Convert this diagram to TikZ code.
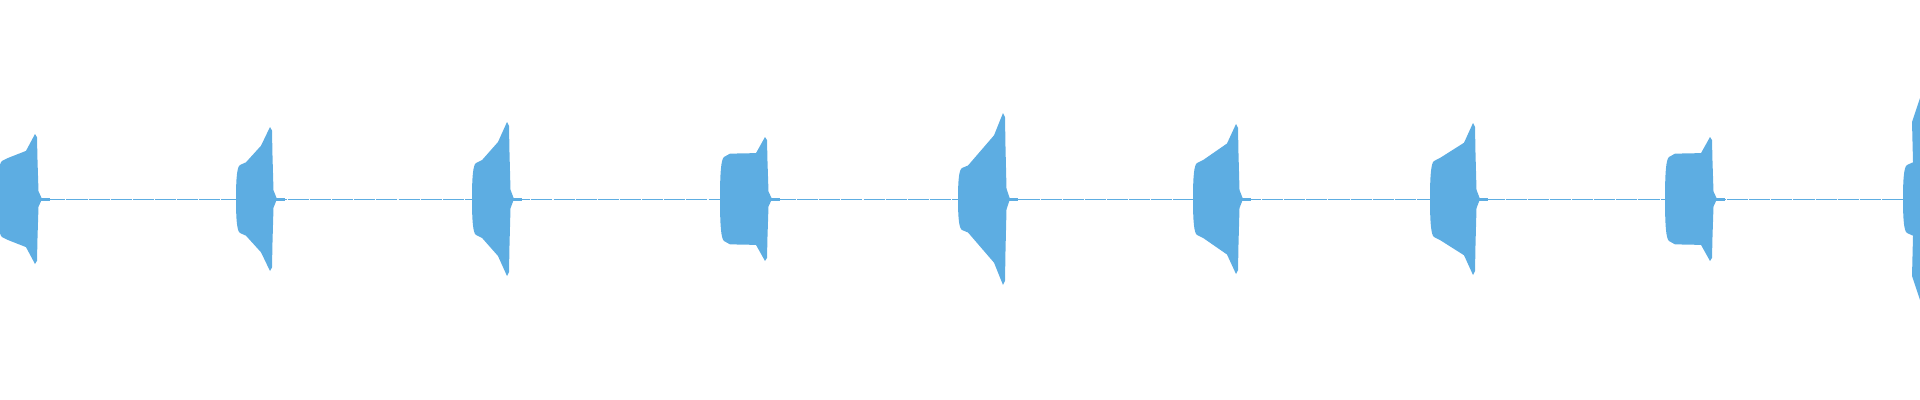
\documentclass[tikz,border=0pt]{standalone}
\definecolor{wave}{RGB}{93,173,226}
\begin{document}
\begin{tikzpicture}[x=0.05cm,y=-0.05cm]
\useasboundingbox (0,0) rectangle (1920,400);
\draw[wave,line width=0.8pt,dash pattern=on 30pt off 1.5pt] (0,199) -- (1920,199);
\foreach \s/\e/\a/\p in {-2/40/38/65, 236/275/34/72, 472/512/36/77, 720/770/42/62, 958/1008/31/86, 1193/1241/36/75, 1430/1478/38/76, 1665/1715/42/62, 1903/1926/34/104}{
  \fill[wave] (\s,199) .. controls (\s,199-0.6*\a) and (\s+1,199-0.95*\a) .. (\s+4,199-\a)
     -- (\s+10,199-1.08*\a) -- (\e-14,199-0.74*\p) -- (\e-5,199-\p) -- (\e-3,199-0.95*\p) -- (\e-2.5,199-0.6*\p) -- (\e-1.5,199-0.12*\p) -- (\e+2,199)
     -- (\e-1.5,199+0.12*\p) -- (\e-2.5,199+0.6*\p) -- (\e-3,199+0.95*\p) -- (\e-5,199+\p)
     -- (\e-14,199+0.74*\p) -- (\s+10,199+1.08*\a) -- (\s+4,199+\a) .. controls (\s+1,199+0.95*\a) and (\s,199+0.6*\a) .. (\s,199) -- cycle;
  \fill[wave] (\e,197.5) rectangle (\e+10,200.5);
}
\end{tikzpicture}
\end{document}
